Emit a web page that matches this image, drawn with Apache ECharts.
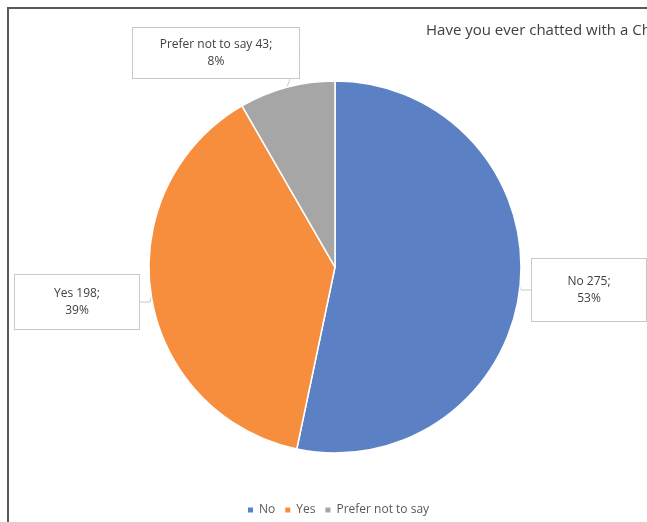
<!DOCTYPE html>
<html>
<head>
<meta charset="utf-8">
<script src="https://cdn.jsdelivr.net/npm/echarts@6/dist/echarts.min.js"></script>
<style>
html,body{margin:0;padding:0;background:#fff;}
#frame{position:absolute;left:7px;top:7px;width:650px;height:530px;border-left:2px solid #5a5a5a;border-top:2px solid #5a5a5a;box-sizing:border-box;}
#chart{position:absolute;left:0;top:0;width:647px;height:522px;}
</style>
</head>
<body>
<div id="chart"></div>
<div id="frame"></div>
<script>
const categories = ['No', 'Yes', 'Prefer not to say'];
const counts = [275, 198, 43];
const colors = ['#5B80C3', '#F68E3E', '#A6A6A6'];
const titleText = 'Have you ever chatted with a Chatbot?';

const labelBoxes = [
  {x: 589, y: 290, w: 110, pv: 14},
  {x: 77, y: 302, w: 120, pv: 10},
  {x: 216, y: 53, w: 162, pv: 8}
];

const chart = echarts.init(document.getElementById('chart'));
chart.setOption({
  animation: false,
  title: {
    text: titleText,
    left: 421, top: 18,
    textStyle: {fontFamily: 'Open Sans', fontSize: 15, fontWeight: 'normal', color: '#404040'}
  },
  legend: {
    bottom: 1, left: 241,
    itemWidth: 7, itemHeight: 7, itemGap: 8,
    icon: 'rect',
    textStyle: {fontFamily: 'Open Sans', fontSize: 12, color: '#595959'},
    data: categories
  },
  series: [{
    type: 'pie',
    center: [335, 267],
    radius: 186,
    startAngle: 90,
    clockwise: true,
    percentPrecision: 0,
    itemStyle: {borderColor: '#fff', borderWidth: 1.5},
    label: {
      formatter: '{b} {c};\n{d}%',
      fontFamily: 'Open Sans', fontSize: 12, color: '#404040',
      lineHeight: 17, align: 'center',
      backgroundColor: '#fff', borderColor: '#c9c9c9', borderWidth: 1
    },
    labelLine: {show: true, length: 10, length2: 10, lineStyle: {color: '#c9c9c9', width: 1}},
    labelLayout: function (p) {
      const b = labelBoxes[p.dataIndex];
      return {x: b.x, y: b.y, align: 'center', verticalAlign: 'middle'};
    },
    data: categories.map((c, i) => ({
      name: c, value: counts[i],
      itemStyle: {color: colors[i]},
      label: {width: labelBoxes[i].w, padding: [labelBoxes[i].pv, 2]}
    }))
  }]
});
</script>
</body>
</html>
